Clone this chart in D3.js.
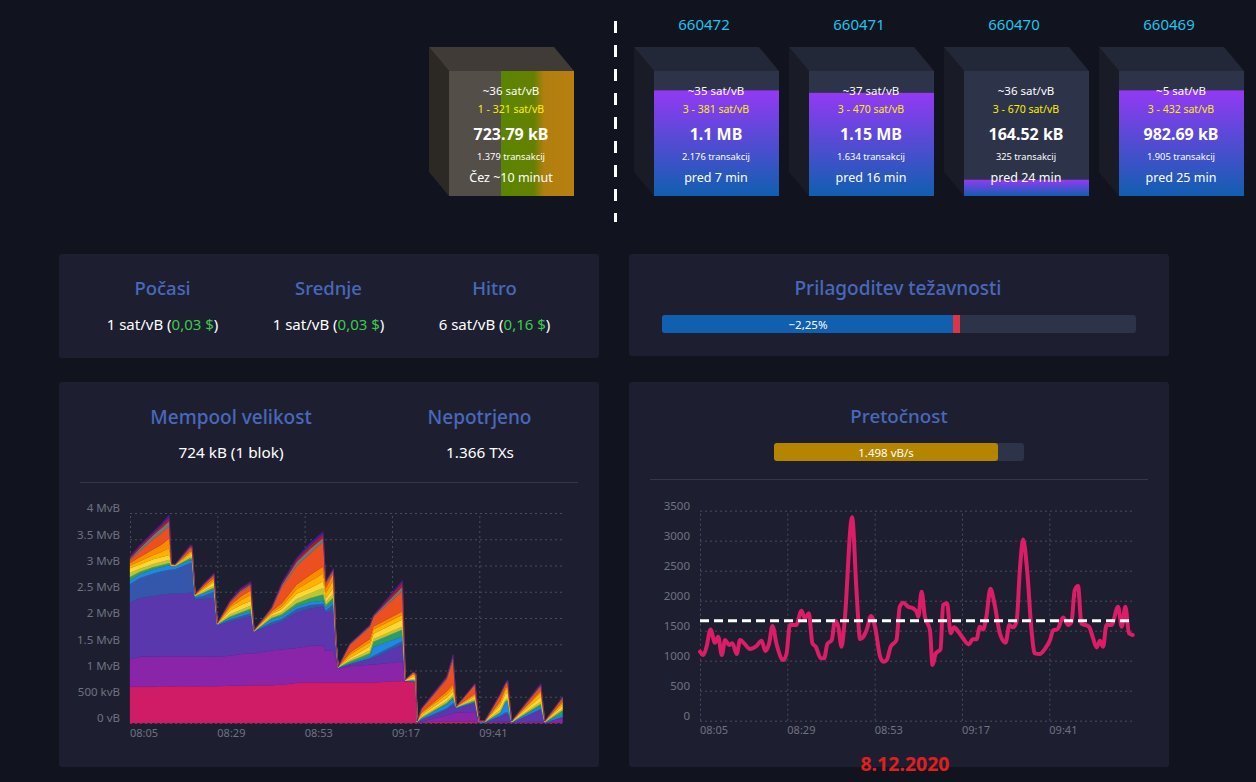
<!DOCTYPE html>
<html><head><meta charset="utf-8">
<script src="https://cdn.jsdelivr.net/npm/d3@7"></script>
<style>html,body{margin:0;padding:0;background:#11131f;overflow:hidden}svg{display:block}text{font-family:"Noto Sans",sans-serif}</style>
</head><body><svg id="c" width="1256" height="782"></svg>
<script>
// ---------- data ----------
const blockHeights=["660472","660471","660470","660469"];
const blockFees=["~35 sat/vB","~37 sat/vB","~36 sat/vB","~5 sat/vB"];
const blockRanges=["3 - 381 sat/vB","3 - 470 sat/vB","3 - 670 sat/vB","3 - 432 sat/vB"];
const blockSizes=["1.1 MB","1.15 MB","164.52 kB","982.69 kB"];
const blockTx=["2.176 transakcij","1.634 transakcij","325 transakcij","1.905 transakcij"];
const blockAges=["pred 7 min","pred 16 min","pred 24 min","pred 25 min"];
const blockFill=[0.845,0.825,0.13,0.845];
const pendingTexts=["~36 sat/vB","1 - 321 sat/vB","723.79 kB","1.379 transakcij","Čez ~10 minut"];
const feeTitles=["Počasi","Srednje","Hitro"];
const feeRates=["1 sat/vB","1 sat/vB","6 sat/vB"];
const feeUsd=["0,03 $","0,03 $","0,16 $"];
const timeLabels=["08:05","08:29","08:53","09:17","09:41"];
const timeTicks=[0,24,48,72,96];
const memTickValues=[0,0.5,1,1.5,2,2.5,3,3.5,4];
const memTickLabels=["0 vB","500 kvB","1 MvB","1.5 MvB","2 MvB","2.5 MvB","3 MvB","3.5 MvB","4 MvB"];
const flowTicks=[0,500,1000,1500,2000,2500,3000,3500];
const bandColors=["#d01b66","#8a24a8","#5b37ae","#3557ab","#1e88e5","#2f9a6a","#b9c635","#fdd835","#ffb300","#fb8c00","#ec5020","#757575","#a51c2c","#4a1c9c"];
const memMinutes=[0,2.7,6.4,8.7,10.8,11.4,12.4,16.5,17.1,17.9,20.1,23.1,24,27.5,30.2,33.2,34.1,38.9,41.7,45.8,49.5,53.1,53.8,55.9,56.6,57.2,60.4,65.9,66.9,74.9,75.7,77.8,78.6,78.9,80.1,87,88.8,89.7,94.8,96,97.5,101.7,103.1,103.8,104.9,112.9,114,118.9];
// cumulative height (MvB) of each colour band at each sample minute
const memBands=[
[.69,1.21,2.30,2.65,2.71,2.78,2.86,2.95,3.0,3.05,3.1,3.13,3.16,3.18],
[.69,1.26,2.38,2.76,2.83,2.88,2.94,3.02,3.08,3.16,3.27,3.33,3.37,3.39],
[.69,1.26,2.42,2.85,2.93,2.97,3.03,3.12,3.2,3.31,3.5,3.58,3.62,3.65],
[.7,1.27,2.45,2.89,2.97,3.01,3.07,3.16,3.26,3.4,3.62,3.72,3.77,3.8],
[.7,1.27,2.46,2.92,3.0,3.05,3.11,3.2,3.33,3.52,3.75,3.85,3.92,3.97],
[.7,1.27,2.46,2.92,2.98,2.99,3.0,3.01,3.02,3.02,3.02,3.03,3.03,3.04],
[.7,1.27,2.46,2.93,2.98,2.99,3.0,3.0,3.01,3.01,3.01,3.02,3.02,3.03],
[.7,1.27,2.48,3.05,3.1,3.14,3.17,3.2,3.24,3.27,3.33,3.35,3.37,3.39],
[.7,1.27,2.48,3.05,3.1,3.14,3.17,3.2,3.24,3.27,3.33,3.35,3.37,3.39],
[.7,1.27,2.35,2.39,2.41,2.42,2.43,2.43,2.44,2.44,2.45,2.45,2.46,2.46],
[.7,1.27,2.36,2.42,2.46,2.48,2.51,2.54,2.56,2.59,2.62,2.63,2.64,2.65],
[.7,1.26,2.38,2.5,2.55,2.58,2.62,2.68,2.72,2.76,2.81,2.83,2.85,2.86],
[.7,1.26,1.86,1.87,1.88,1.88,1.89,1.89,1.89,1.9,1.9,1.9,1.91,1.91],
[.71,1.28,1.93,1.97,2.0,2.03,2.07,2.14,2.2,2.24,2.29,2.31,2.33,2.34],
[.71,1.31,1.98,2.03,2.07,2.1,2.15,2.24,2.33,2.4,2.48,2.51,2.54,2.56],
[.72,1.33,2.04,2.09,2.13,2.18,2.24,2.33,2.44,2.53,2.62,2.65,2.68,2.7],
[.72,1.33,1.74,1.75,1.75,1.75,1.75,1.76,1.76,1.76,1.76,1.77,1.77,1.77],
[.72,1.38,1.86,1.92,1.97,2.0,2.04,2.07,2.1,2.13,2.17,2.19,2.2,2.21],
[.73,1.4,1.93,1.98,2.03,2.07,2.11,2.17,2.22,2.28,2.58,2.63,2.66,2.68],
[.76,1.43,2.1,2.17,2.22,2.28,2.36,2.46,2.55,2.64,2.99,3.07,3.12,3.15],
[.77,1.47,2.18,2.25,2.3,2.38,2.47,2.57,2.7,2.82,3.23,3.32,3.38,3.43],
[.77,1.48,2.22,2.27,2.33,2.45,2.57,2.7,2.85,2.98,3.45,3.53,3.6,3.65],
[.77,1.38,2.1,2.14,2.19,2.25,2.3,2.37,2.47,2.57,2.65,2.68,2.7,2.71],
[.77,1.37,2.15,2.27,2.32,2.39,2.47,2.58,2.72,2.85,2.89,2.92,2.94,2.95],
[.77,1.2,1.5,1.53,1.55,1.56,1.57,1.58,1.59,1.6,1.61,1.615,1.62,1.62],
[.77,1.04,1.05,1.055,1.06,1.06,1.06,1.065,1.065,1.07,1.07,1.07,1.07,1.08],
[.77,1.08,1.12,1.13,1.14,1.17,1.2,1.24,1.3,1.34,1.48,1.5,1.51,1.52],
[.77,1.11,1.22,1.24,1.27,1.33,1.38,1.46,1.54,1.6,1.82,1.85,1.86,1.87],
[.77,1.11,1.24,1.28,1.45,1.55,1.6,1.7,1.78,1.84,2.02,2.04,2.05,2.06],
[.8,1.17,1.49,1.56,1.65,1.78,1.84,1.97,2.06,2.13,2.51,2.6,2.68,2.72],
[.79,.8,.8,.81,.81,.81,.81,.82,.82,.82,.83,.83,.83,.83],
[.78,.79,.79,.8,.81,.82,.84,.88,.92,.94,.96,.97,.97,.98],
[.78,.78,.78,.79,.79,.8,.82,.86,.9,.92,.94,.94,.95,.95],
[0,.01,.02,.02,.03,.03,.03,.03,.04,.04,.04,.04,.04,.05],
[.01,.03,.06,.07,.09,.1,.12,.15,.18,.2,.26,.27,.28,.29],
[.03,.15,.25,.28,.35,.38,.42,.48,.55,.6,.82,.85,.88,.89],
[.03,.18,.34,.38,.46,.5,.54,.6,.68,.74,1.2,1.26,1.3,1.31],
[.03,.2,.28,.29,.3,.3,.31,.31,.31,.31,.32,.32,.32,.32],
[.03,.21,.38,.4,.41,.43,.46,.5,.54,.56,.73,.74,.75,.76],
[0,.01,.01,.02,.02,.02,.03,.03,.03,.03,.04,.04,.04,.04],
[0,.01,.01,.02,.02,.02,.03,.03,.03,.03,.04,.04,.04,.04],
[.01,.03,.12,.14,.18,.2,.25,.33,.38,.42,.52,.54,.55,.56],
[.01,.03,.16,.2,.38,.41,.44,.55,.62,.66,.72,.74,.75,.76],
[.01,.03,.16,.2,.4,.44,.47,.58,.66,.7,.78,.8,.82,.83],
[0,.01,.01,.01,.02,.02,.02,.03,.03,.03,.04,.04,.04,.05],
[.01,.03,.25,.27,.32,.36,.41,.5,.58,.62,.7,.72,.74,.76],
[0,.01,.01,.01,.02,.02,.02,.03,.03,.03,.04,.04,.04,.04],
[.01,.09,.11,.12,.16,.24,.27,.33,.38,.41,.47,.49,.5,.51]
];
const flowMinutes=[0,.9,1.8,2.9,4.1,5,6,6.9,8,8.9,10.1,11,12.4,13.7,15.6,16.9,18,19,19.9,21.1,22.9,23.8,24.7,26.4,27.9,28.8,29.9,30.9,31.8,33.2,34.1,35,36.2,37.1,38,38.9,39.7,41.8,43,44,44.9,45.8,47,48.1,49.5,50.4,51.3,52.4,54,54.9,55.9,57.2,58.6,59.5,60,60.9,61.8,63.2,63.9,64.8,66.1,66.8,67.9,68.9,69.8,71,72.3,73.9,74.9,76,76.9,77.8,78.7,79.8,81,82.4,84,85,86,87,87.9,88.8,89.9,91.1,92,93.4,94.7,96.2,97.1,98.2,99.8,101.2,102.1,103,103.9,104.8,106.9,107.9,109,109.9,110.8,111.7,113.1,114.9,115.9,116.9,117.9,118.9];
const flowValues=[1150,1094,1233,1522,1300,1400,1094,1344,1261,1289,1111,1344,1272,1194,1250,1333,1161,1289,1578,1261,1011,1122,1594,1594,1833,1706,1789,1289,1233,1039,1039,1278,1344,1667,1567,1233,1622,3389,2178,1361,1400,1511,1744,1567,1067,983,1011,1233,1344,1900,1967,1900,1872,1817,1733,2150,1733,1511,928,1122,1189,1928,1956,1456,1556,1483,1372,1272,1356,1356,1567,1522,1733,2200,1928,1456,1300,1594,1556,1650,2511,3022,2511,1511,1122,1111,1189,1344,1511,1522,1722,1594,1650,2178,2244,1622,1567,1400,1222,1333,1233,1594,1594,1900,1567,1900,1456,1428];
const flowTarget=1667;

// ---------- helpers ----------
const svg=d3.select("#c"), defs=svg.append("defs");
const T={bg:"#11131f",panel:"#1d1f31",track:"#2d3348",title:"#4a68b9",axis:"#6f7280",grid:"#494c5e"};
function txt(x,y,s,o={}){return svg.append("text").attr("x",x).attr("y",y).attr("dy",".35em")
 .attr("text-anchor",o.anchor||"middle").attr("fill",o.fill||"#fff").attr("font-size",o.size||14)
 .attr("font-weight",o.weight||400).text(s);}
function panel(x,y,w,h){svg.append("rect").attr("x",x).attr("y",y).attr("width",w).attr("height",h).attr("rx",3).attr("fill",T.panel);}
function bar(x,y,w,h,fill){return svg.append("rect").attr("x",x).attr("y",y).attr("width",w).attr("height",h).attr("fill",fill);}
function cube(x,front,top,side){
 const y0=71,h=125,w=125,dx=20,dy=24;
 svg.append("polygon").attr("points",[[x-dx,y0-dy],[x,y0],[x,y0+h],[x-dx,y0+h-dy]].join(" ")).attr("fill",side);
 svg.append("polygon").attr("points",[[x-dx,y0-dy],[x-dx+w,y0-dy],[x+w,y0],[x,y0]].join(" ")).attr("fill",top);
 return svg.append("rect").attr("x",x).attr("y",y0).attr("width",w).attr("height",h).attr("fill",front);
}
function blockText(cx,t){
 txt(cx,91,t[0],{size:11.5});
 txt(cx,109,t[1],{size:10.5,fill:"#ffee00"});
 txt(cx,134,t[2],{size:16,weight:700});
 txt(cx,156.5,t[3],{size:9.3});
 txt(cx,178,t[4],{size:12.5});
}

// ---------- pending block ----------
const pg=defs.append("linearGradient").attr("id","pending");
[[0,"#544e49"],[.416,"#544e49"],[.416,"#5a8500"],[.68,"#668000"],[.76,"#b07f10"],[1,"#b8800f"]]
 .forEach(d=>pg.append("stop").attr("offset",d[0]).attr("stop-color",d[1]));
cube(449,"url(#pending)","#413b38","#2c2925");
blockText(511,pendingTexts);

// ---------- dashed separator ----------
svg.append("line").attr("x1",615.5).attr("x2",615.5).attr("y1",21).attr("y2",222)
 .attr("stroke","#fff").attr("stroke-width",3).attr("stroke-dasharray","12 12");

// ---------- mined blocks ----------
blockHeights.forEach((b,i)=>{
 const x=654+155*i, fh=125*blockFill[i];
 cube(x,T.track,"#232838","#191c27");
 const id="bg"+i, g=defs.append("linearGradient").attr("id",id).attr("x1",0).attr("x2",0).attr("y1",0).attr("y2",1);
 g.append("stop").attr("offset",0).attr("stop-color","#9339f4");
 g.append("stop").attr("offset",1).attr("stop-color","#105fb0");
 bar(x,196-fh,125,fh,`url(#${id})`);
 txt(x+50,25,b,{size:15,fill:"#1bc5ee"});
 blockText(x+62,[blockFees[i],blockRanges[i],blockSizes[i],blockTx[i],blockAges[i]]);
});

// ---------- panels ----------
panel(59,254,540,104);panel(629,254,540,102);panel(59,382,540,385);panel(629,382,540,385);

// fees
feeTitles.forEach((t,i)=>{
 const cx=[162.5,328.5,494.5][i];
 txt(cx,289,t,{size:18.5,fill:T.title,weight:500});
 const el=txt(cx,325,"",{size:15});
 el.append("tspan").text(feeRates[i]+" (");
 el.append("tspan").attr("fill","#3bcc49").text(feeUsd[i]);
 el.append("tspan").text(")");
});

// difficulty
txt(898,288,"Prilagoditev težavnosti",{size:19,fill:T.title,weight:500});
bar(662,315,474,18,T.track).attr("rx",3);
bar(662,315,293,18,"#1160b0").attr("rx",3);
bar(953,315,7,18,"#dc3545");
txt(808,324.5,"−2,25%",{size:11.5});

// mempool header
txt(231,417,"Mempool velikost",{size:19,fill:T.title,weight:500});
txt(479.5,417,"Nepotrjeno",{size:19,fill:T.title,weight:500});
txt(231,452.5,"724 kB (1 blok)",{size:15.3});
txt(480,452.5,"1.366 TXs",{size:15.3});
svg.append("line").attr("x1",80).attr("x2",578).attr("y1",482.5).attr("y2",482.5).attr("stroke","#343749");

// throughput header
txt(899,416,"Pretočnost",{size:18.8,fill:T.title,weight:500});
bar(774,443,250,18,T.track).attr("rx",3);
bar(774,443,224,18,"#b58500").attr("rx",3);
txt(886,452.5,"1.498 vB/s",{size:11.5});
svg.append("line").attr("x1",650).attr("x2",1148).attr("y1",479.5).attr("y2",479.5).attr("stroke","#343749");

// ---------- axes ----------
function styleAxes(g){
 g.select(".domain").remove();
 g.selectAll("line").attr("stroke",T.grid).attr("stroke-dasharray","2 3").attr("stroke-width",1);
 g.selectAll("text").attr("fill",T.axis).attr("font-size",11.5);
}
function axes(x,y,yVals,yFmt,xLeft,bottom,top,right){
 const gy=svg.append("g").attr("transform",`translate(${xLeft},0)`)
  .call(d3.axisLeft(y).tickValues(yVals).tickFormat(yFmt).tickSize(-(right-xLeft)).tickPadding(10));
 styleAxes(gy);
 gy.selectAll("text").attr("dy","-.1em");
 const gx=svg.append("g").attr("transform",`translate(0,${bottom})`)
  .call(d3.axisBottom(x).tickValues(timeTicks).tickFormat((d,i)=>timeLabels[i]).tickSize(-(bottom-top)).tickPadding(6));
 styleAxes(gx);
 gx.selectAll("text").attr("text-anchor","start").attr("font-size",11).attr("dx","-.5");
}

// ---------- mempool chart ----------
const xM=d3.scaleLinear().domain([0,119]).range([130,563]);
const yM=d3.scaleLinear().domain([0,4]).range([723,513]);
axes(xM,yM,memTickValues,(d,i)=>memTickLabels[i],130,723,513,563);
const bandKeys=bandColors.map((_,i)=>i);
const memRows=memBands.map((r,i)=>{const o={t:memMinutes[i]};r.forEach((v,k)=>o[k]=k?v-r[k-1]:v);return o;});
const memStack=d3.stack().keys(bandKeys)(memRows);
const memArea=d3.area().x(d=>xM(d.data.t)).y0(d=>yM(d[0])).y1(d=>yM(d[1]));
svg.append("g").selectAll("path").data(memStack).join("path")
 .attr("d",memArea).attr("fill",(d,i)=>bandColors[i]).attr("stroke",(d,i)=>bandColors[i]).attr("stroke-width",.3);

// ---------- throughput chart ----------
const xF=d3.scaleLinear().domain([0,119]).range([700,1133]);
const yF=d3.scaleLinear().domain([0,3500]).range([720.7,510.7]);
axes(xF,yF,flowTicks,d=>d,700,720.7,510.7,1133);
svg.append("path").attr("fill","none").attr("stroke","#dc1c66").attr("stroke-width",4)
 .attr("stroke-linejoin","round").attr("stroke-linecap","round")
 .attr("d",d3.line().x((d,i)=>xF(flowMinutes[i])).y(d=>yF(d)).curve(d3.curveMonotoneX)(flowValues));
svg.append("line").attr("x1",xF(0)).attr("x2",xF(118)).attr("y1",yF(flowTarget)).attr("y2",yF(flowTarget))
 .attr("stroke","#fff").attr("stroke-width",3).attr("stroke-dasharray","9 5");

// date
txt(905,764,"8.12.2020",{size:19.5,weight:700,fill:"#e0201f"});
</script></body></html>
